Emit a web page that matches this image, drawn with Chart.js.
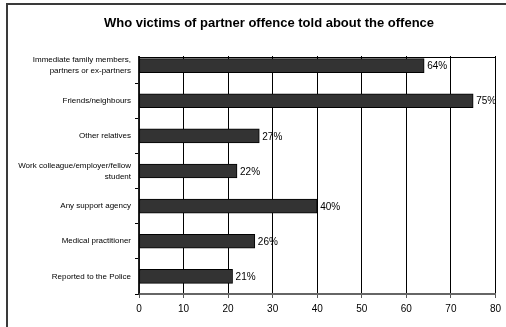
<!DOCTYPE html>
<html>
<head>
<meta charset="utf-8">
<script src="https://cdn.jsdelivr.net/npm/chart.js@4"></script>
<style>
  html, body { margin: 0; padding: 0; background: #fff; overflow: hidden; }
  #frame { position: absolute; left: 6px; top: 3px; width: 600px; height: 400px; border: 2px solid #3a3a3a; }
  #wrap { position: absolute; left: 0; top: 0; width: 506px; height: 327px; }
</style>
</head>
<body>
<div id="frame"></div>
<div id="wrap"><canvas id="myChart" width="506" height="327"></canvas></div>
<script>
const titleText = "Who victims of partner offence told about the offence";
const categories = [
  ["Immediate family members,", "partners or ex-partners"],
  "Friends/neighbours",
  "Other relatives",
  ["Work colleague/employer/fellow", "student"],
  "Any support agency",
  "Medical practitioner",
  "Reported to the Police"
];
const percentages = [64, 75, 27, 22, 40, 26, 21];
const xTicks = [0, 10, 20, 30, 40, 50, 60, 70, 80];

const FONT = "'Liberation Sans', Arial, sans-serif";

// title drawn by hand so it can sit off-centre like the original
const chartTitle = {
  id: "chartTitle",
  afterDraw(chart) {
    const { ctx } = chart;
    ctx.save();
    ctx.font = "bold 13px " + FONT;
    ctx.fillStyle = "#000";
    ctx.textAlign = "center";
    ctx.textBaseline = "middle";
    ctx.fillText(titleText, 269, 23);
    ctx.restore();
  }
};

// Excel-style plot: top band is cut, draw the plot border a bit lower
const plotTopCut = {
  id: "plotTopCut",
  beforeDatasetsDraw(chart) {
    const { ctx, chartArea } = chart;
    const cut = chartArea.top + 9;
    ctx.save();
    ctx.fillStyle = "#fff";
    ctx.fillRect(chartArea.left - 8, chartArea.top - 2, chartArea.right - chartArea.left + 10, cut - chartArea.top + 1);
    ctx.strokeStyle = "#000";
    ctx.lineWidth = 1;
    ctx.beginPath();
    ctx.moveTo(chartArea.left, cut + 0.5);
    ctx.lineTo(chartArea.right + 0.5, cut + 0.5);
    ctx.stroke();
    ctx.restore();
  }
};

// value labels after each bar
const valueLabels = {
  id: "valueLabels",
  afterDatasetsDraw(chart) {
    const { ctx } = chart;
    const meta = chart.getDatasetMeta(0);
    ctx.save();
    ctx.font = "10px " + FONT;
    ctx.fillStyle = "#000";
    ctx.textAlign = "left";
    ctx.textBaseline = "middle";
    meta.data.forEach((bar, i) => {
      ctx.fillText(percentages[i] + "%", bar.x + 3, bar.y + 1);
    });
    ctx.restore();
  }
};

const ctx = document.getElementById("myChart").getContext("2d");
new Chart(ctx, {
  type: "bar",
  data: {
    labels: categories,
    datasets: [{
      data: percentages,
      backgroundColor: "#333333",
      borderColor: "#000000",
      borderWidth: 1,
      borderSkipped: false,
      barThickness: 14
    }]
  },
  options: {
    indexAxis: "y",
    responsive: false,
    animation: false,
    layout: { padding: { left: 0, right: 9, top: 48, bottom: 0 } },
    plugins: {
      legend: { display: false },
      tooltip: { enabled: false },
      title: { display: false }
    },
    scales: {
      x: {
        min: xTicks[0],
        max: xTicks[xTicks.length - 1],
        afterBuildTicks(scale) {
          scale.ticks = xTicks.map(v => ({ value: v }));
        },
        afterFit(scale) { scale.height = 33; },
        grid: { color: "#000", lineWidth: 1, tickLength: 4, tickColor: "#555" },
        border: { color: "#666", width: 2 },
        ticks: { color: "#000", font: { family: FONT, size: 10 }, padding: 5, maxRotation: 0 }
      },
      y: {
        afterFit(scale) { scale.width = 139; },
        grid: { drawOnChartArea: false, tickLength: 4, color: "#000", offset: true },
        border: { color: "#222", width: 1.5 },
        ticks: { color: "#000", font: { family: FONT, size: 8, lineHeight: 1.35 }, padding: 4, autoSkip: false }
      }
    }
  },
  plugins: [plotTopCut, valueLabels, chartTitle]
});
</script>
</body>
</html>
